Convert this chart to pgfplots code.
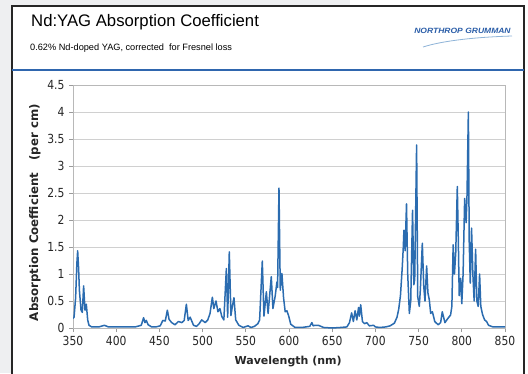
\documentclass[border=0pt]{standalone}
\usepackage{fontspec}
\usepackage{pgfplots}
\pgfplotsset{compat=1.18}
\setmainfont{Liberation Sans}
\newfontfamily\tickfont[FakeStretch=0.86]{DejaVu Sans}
\newfontfamily\labfont{DejaVu Sans}
\definecolor{bggray}{HTML}{EEEFF1}
\definecolor{lineblue}{HTML}{2B6CB0}
\definecolor{sepblue}{HTML}{2F66AE}
\definecolor{logoblue}{HTML}{2A5DA8}
\definecolor{swoosh}{HTML}{8FB4D8}
\definecolor{gridgray}{HTML}{D0D0D0}
\definecolor{framegray}{HTML}{B8B8B8}
\definecolor{axgray}{HTML}{9A9A9A}
\definecolor{txtgray}{HTML}{262626}
\begin{document}
\begin{tikzpicture}[x=1pt,y=1pt]
\useasboundingbox (0,0) rectangle (528,373);
\fill[white] (0,0) rectangle (528,373);
\fill[bggray] (0,0) rectangle (12,373);
\fill[bggray] (0,367) rectangle (350,373);
\draw[line width=1.4pt,black!85] (12,-2) -- (12,367) -- (524,367) -- (524,-2);
\draw[line width=2.4pt,sepblue] (12,303) -- (524,303);
\node[anchor=base west,inner sep=0pt,font=\fontsize{16.7}{18}\selectfont] at (31,346) {Nd:YAG Absorption Coefficient};
\node[anchor=base west,inner sep=0pt,font=\fontsize{9.2}{10}\selectfont] at (30,322) {0.62\% Nd-doped YAG, corrected\ \ for Fresnel loss};
\node[anchor=base,inner sep=0pt,text=logoblue,font=\fontsize{7.6}{8}\selectfont\bfseries\itshape] at (462.5,339) {\scalebox{1.12}[1]{NORTHROP GRUMMAN}};
\draw[swoosh,line width=0.8pt] (423,326) .. controls (445,333) and (480,336) .. (512,337);
\begin{axis}[
  at={(73pt,45pt)}, anchor=south west,
  scale only axis, width=432pt, height=243pt,
  xmin=350, xmax=850, ymin=0, ymax=4.5,
  xtick={350,400,...,850},
  ytick={0,0.5,...,4.5},
  yticklabels={0,0.5,1,1.5,2,2.5,3,3.5,4,4.5},
  xtick pos=lower, ytick pos=left,
  tick align=outside, major tick length=4pt,
  tick style={axgray, line width=0.8pt},
  ymajorgrids, grid style={gridgray, line width=0.9pt},
  axis line style={framegray, line width=0.9pt},
  /pgf/number format/assume math mode=true,
  ticklabel style={font=\tickfont\fontsize{12.5}{13}\selectfont, text=txtgray},
  xticklabel style={yshift=-1pt},
  yticklabel style={xshift=-1pt},
  xlabel={Wavelength (nm)},
  ylabel={Absorption Coefficient\ \ \ (per cm)},
  every axis x label/.style={at={(axis description cs:0.498,-0.136)}, anchor=center, font=\labfont\bfseries\fontsize{11}{12}\selectfont, text=txtgray},
  every axis y label/.style={at={(axis description cs:-0.088,0.475)}, anchor=center, rotate=90, font=\labfont\bfseries\fontsize{11.8}{12}\selectfont, text=txtgray},
]
\addplot[lineblue, line width=1.5pt, line join=round, mark=none] coordinates {
(350,0.18) (351.2,0.2) (353,0.55) (354.5,1.2) (355.4,1.43) (356.5,1.1) (357.4,0.7)
(359.3,0.33) (360.8,0.29) (362.3,0.78) (363.9,0.33) (365.4,0.44) (367,0.15) (368.5,0.05)
(371.6,0.02) (380,0.02) (386.3,0.05) (391,0.02) (400,0.02) (410,0.02) (422,0.02)
(429,0.05) (431.7,0.19) (433.3,0.1) (434.8,0.14) (437,0.06) (441,0.02) (446,0.02)
(450.9,0.04) (454,0.14) (456.8,0.13) (459.2,0.33) (461.2,0.16) (464.2,0.1) (468,0.06)
(472,0.12) (476,0.1) (478.7,0.14) (481.2,0.44) (483.3,0.14) (485.6,0.2) (489.5,0.05)
(493,0.03) (496,0.08) (499,0.15) (503,0.1) (506,0.15) (508.6,0.27) (511.3,0.57)
(513,0.36) (515.5,0.5) (517.8,0.3) (520,0.36) (522.3,0.21) (524.6,0.15) (527.5,1.1)
(529,0.2) (530.9,1.41) (532.8,0.23) (534.4,0.4) (536.3,0.56) (538.3,0.15) (542,0.05)
(547,0.01) (552.6,0.04) (556,0.01) (560,0.03) (564,0.08) (566,0.15) (569.1,1.24)
(571,0.22) (573.8,0.67) (575.8,0.27) (579.5,0.95) (581.4,0.36) (584.1,0.6) (586,0.85)
(586.8,0.75) (588.4,2.59) (589.9,0.7) (591.8,1.01) (593.7,0.56) (595.6,0.3) (597.6,0.32)
(599.5,0.23) (602,0.07) (607,0.01) (615,0.01) (624,0.03) (626.5,0.1) (628,0.04)
(630,0.05) (634,0.05) (640,0.01) (650,0.0) (660,0.01) (667,0.02) (670,0.1)
(672.5,0.28) (674.5,0.12) (676.5,0.32) (678.5,0.15) (680.5,0.38) (681.5,0.22) (683,0.43)
(685,0.12) (687.5,0.08) (690,0.1) (693,0.04) (698,0.05) (700,0.02) (705,0.01)
(712,0.02) (717,0.04) (722,0.09) (725,0.2) (727,0.35) (729,0.6) (731,1.1)
(732.3,1.5) (733,1.81) (734.4,1.43) (736,2.3) (737.4,1.0) (739.3,0.27) (740.9,0.5)
(743,2.18) (744.5,0.8) (745.5,0.9) (747.7,3.39) (749,0.58) (750.8,0.4) (752,0.7)
(754.3,1.57) (756,0.76) (757.4,0.5) (759.3,1.15) (760.8,0.65) (762.4,0.52) (764,0.27)
(766,0.3) (768.7,0.12) (772.6,0.06) (775.5,0.1) (777.4,0.3) (780.5,0.1) (784,0.18)
(787,0.24) (788.5,0.4) (790,1.54) (791.5,1.0) (793,1.4) (794.8,2.62) (796,1.6)
(797,0.6) (798.7,0.92) (800,0.45) (801.5,1.0) (803.3,2.4) (805,1.95) (806,2.43)
(807.6,4.0) (808.6,1.6) (809.8,0.83) (811.3,1.85) (812.8,1.0) (814.3,0.5) (816,1.46)
(817.4,0.5) (819,0.4) (820.6,1.0) (822,0.4) (824,0.25) (826.4,0.15) (828.7,0.12)
(831,0.05) (836,0.02) (844,0.02) (850,0.02)
};
\end{axis}
\end{tikzpicture}
\end{document}
